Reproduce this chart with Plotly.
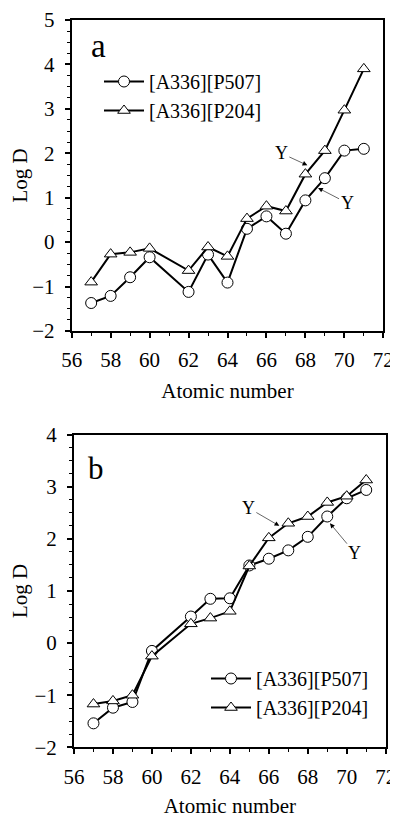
import plotly.graph_objects as go

# ---- data ----
atomic_number = [57, 58, 59, 60, 62, 63, 64, 65, 66, 67, 68, 69, 70, 71]

a_p507 = [-1.37, -1.21, -0.79, -0.34, -1.12, -0.28, -0.91, 0.30, 0.58, 0.19, 0.94, 1.44, 2.06, 2.10]
a_p204 = [-0.90, -0.27, -0.23, -0.14, -0.64, -0.11, -0.32, 0.53, 0.81, 0.70, 1.53, 2.06, 2.97, 3.90]

b_p507 = [-1.54, -1.24, -1.13, -0.15, 0.51, 0.85, 0.86, 1.49, 1.62, 1.78, 2.04, 2.43, 2.78, 2.94]
b_p204 = [-1.17, -1.11, -1.00, -0.25, 0.37, 0.48, 0.61, 1.48, 2.02, 2.30, 2.43, 2.70, 2.82, 3.13]

series_names = ["[A336][P507]", "[A336][P204]"]
x_ticks = [56, 58, 60, 62, 64, 66, 68, 70, 72]

FONT = "Liberation Serif"

fig = go.Figure()

def add_series(x, y, name, symbol, xa, ya, legend):
    fig.add_trace(go.Scatter(
        x=x, y=y, name=name, mode="lines+markers",
        line=dict(color="black", width=2),
        marker=dict(symbol=symbol, size=11, color="white",
                    line=dict(color="black", width=1)),
        xaxis=xa, yaxis=ya, legend=legend))

add_series(atomic_number, a_p507, series_names[0], "circle", "x", "y", "legend")
add_series(atomic_number, a_p204, series_names[1], "triangle-up", "x", "y", "legend")
add_series(atomic_number, b_p507, series_names[0], "circle", "x2", "y2", "legend2")
add_series(atomic_number, b_p204, series_names[1], "triangle-up", "x2", "y2", "legend2")

# page body has an 8px margin; figure sized to fit the window
OFF = 8
W, H = 398 - OFF, 818 - OFF

def px(xw):
    return (xw - OFF) / W

def py(yw):
    return 1 - (yw - OFF) / H

def xaxis(domain, anchor):
    return dict(domain=domain, anchor=anchor, range=[56, 72], automargin=False,
                tickvals=x_ticks, ticks="outside", ticklen=5, tickwidth=1.5,
                tickcolor="black", showline=True, linecolor="black", linewidth=2,
                mirror=True, showgrid=False, zeroline=False,
                minor=dict(dtick=1, ticks="outside", ticklen=3, tickcolor="black", tickwidth=1),
                tickfont=dict(family=FONT, size=21, color="black"),
                title=dict(text="Atomic number", font=dict(family=FONT, size=21, color="black"), standoff=12),
                ticklabelstandoff=4)

def yaxis(domain, anchor, rng):
    return dict(domain=domain, anchor=anchor, range=rng, dtick=1, automargin=False,
                ticks="outside", ticklen=5, tickwidth=1.5, tickcolor="black",
                showline=True, linecolor="black", linewidth=2, mirror=True,
                showgrid=False, zeroline=False,
                minor=dict(dtick=0.25, ticks="outside", ticklen=3, tickcolor="black", tickwidth=1),
                tickfont=dict(family=FONT, size=21, color="black"),
                title=dict(text="Log D", font=dict(family=FONT, size=21, color="black"), standoff=12),
                ticklabelstandoff=6)

fig.update_layout(
    width=W, height=H,
    margin=dict(l=0, r=0, t=0, b=0),
    paper_bgcolor="white", plot_bgcolor="white",
    font=dict(family=FONT, size=21, color="black"),
    xaxis=xaxis([px(71.7), px(383.3)], "y"),
    yaxis=yaxis([py(331), py(20)], "x", [-2, 5]),
    xaxis2=xaxis([px(74), px(385.7)], "y2"),
    yaxis2=yaxis([py(747.3), py(434.7)], "x2", [-2, 4]),
    legend=dict(x=px(99), y=py(62), xanchor="left", yanchor="top",
                bgcolor="rgba(0,0,0,0)", font=dict(family=FONT, size=20, color="black"),
                itemwidth=40, tracegroupgap=0),
    legend2=dict(x=px(206), y=py(659), xanchor="left", yanchor="top",
                 bgcolor="rgba(0,0,0,0)", font=dict(family=FONT, size=20, color="black"),
                 itemwidth=40, tracegroupgap=0),
    showlegend=True,
)

# panel letters
fig.add_annotation(text="a", xref="paper", yref="paper", x=px(98.5), y=py(46),
                   xanchor="center", yanchor="middle",
                   showarrow=False, font=dict(family=FONT, size=33, color="black"))
fig.add_annotation(text="b", xref="paper", yref="paper", x=px(95.7), y=py(468),
                   xanchor="center", yanchor="middle",
                   showarrow=False, font=dict(family=FONT, size=31, color="black"))

# Y (yttrium) arrows
arrow_style = dict(showarrow=True, arrowhead=2, arrowsize=1.6, arrowwidth=0.6,
                   arrowcolor="black", font=dict(family=FONT, size=18, color="black"))
fig.add_annotation(text="Y", xref="x", yref="y", x=68.1, y=1.73, ax=-26, ay=-12, **arrow_style)
fig.add_annotation(text="Y", xref="x", yref="y", x=68.65, y=1.22, ax=29, ay=15, **arrow_style)
fig.add_annotation(text="Y", xref="x2", yref="y2", x=66.54, y=2.25, ax=-31, ay=-18, **arrow_style)
fig.add_annotation(text="Y", xref="x2", yref="y2", x=69.14, y=2.30, ax=25, ay=30, **arrow_style)

fig.write_html("out.html")
